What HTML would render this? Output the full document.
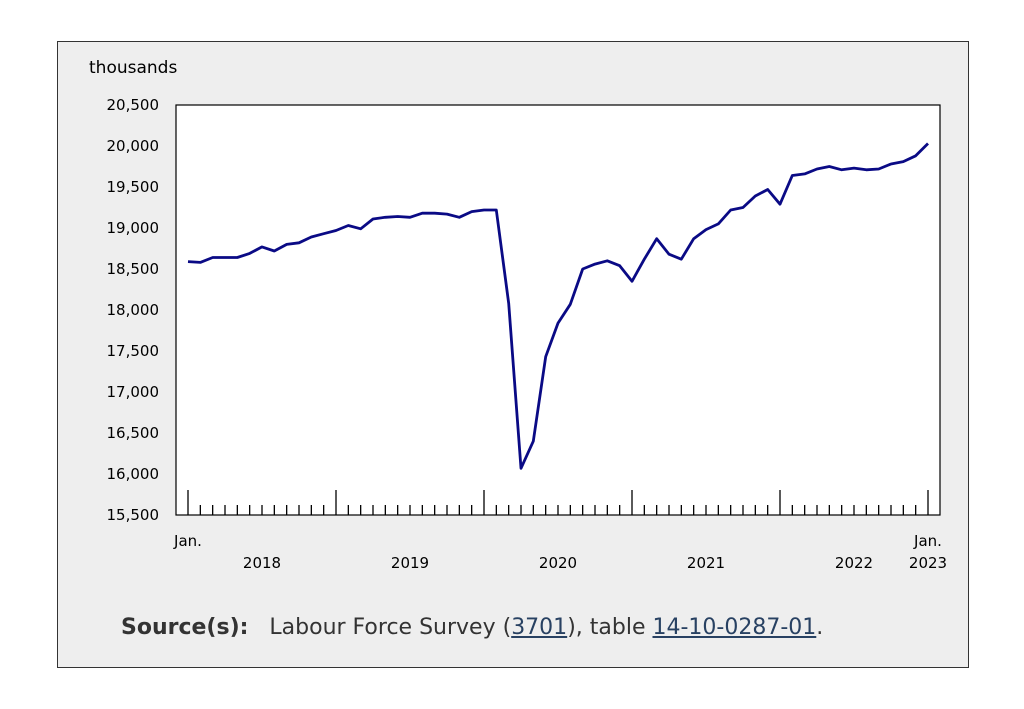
<!DOCTYPE html>
<html><head><meta charset="utf-8"><style>
body{margin:0;background:#fff;width:1024px;height:709px;overflow:hidden;font-family:"DejaVu Sans","Liberation Sans",sans-serif;}
.box{position:absolute;left:57px;top:41px;width:910px;height:625px;background:#eeeeee;border:1px solid #333;}
svg{position:absolute;left:0;top:0}
.src{position:absolute;left:121px;top:615px;font-size:22px;color:#333;}
.src a{color:#284162;text-decoration:underline}
</style></head><body>
<div class="box"></div>
<svg width="1024" height="709" font-family="DejaVu Sans, Liberation Sans, sans-serif" font-size="15" fill="#000">
<rect x="176" y="105" width="764" height="410" fill="#fff" stroke="#000" stroke-width="1.2"/>
<text x="89" y="73" font-size="17">thousands</text>
<g text-anchor="end" font-size="15" id="yl"></g>
<g id="ticks" stroke="#000" stroke-width="1.3"></g>
<g font-size="15" text-anchor="middle">
<text x="188" y="546">Jan.</text>
<text x="928" y="546">Jan.</text>
<text x="262" y="568">2018</text>
<text x="410" y="568">2019</text>
<text x="558" y="568">2020</text>
<text x="706" y="568">2021</text>
<text x="854" y="568">2022</text>
<text x="928" y="568">2023</text>
</g>
<polyline id="ln" fill="none" stroke="#0a0a85" stroke-width="2.8" stroke-linejoin="round"/>
</svg>
<div class="src"><b>Source(s):</b>&nbsp;&nbsp; Labour Force Survey (<a>3701</a>), table <a>14-10-0287-01</a>.</div>
<script>
var d=[18590,18580,18640,18640,18640,18690,18770,18720,18800,18820,18890,18930,18970,19030,18990,19110,19130,19140,19130,19180,19180,19170,19130,19200,19220,19220,18080,16070,16400,17430,17840,18070,18500,18560,18600,18540,18350,18620,18870,18680,18620,18870,18980,19050,19220,19250,19390,19470,19290,19640,19660,19720,19750,19710,19730,19710,19720,19780,19810,19880,20030];
function Y(v){return 515-(v-15500)*410/5000;}
function X(i){return 188+i*740/60;}
document.getElementById('ln').setAttribute('points',d.map(function(v,i){return X(i).toFixed(1)+','+Y(v).toFixed(1)}).join(' '));
var yl='';for(var v=15500;v<=20500;v+=500){yl+='<text x="159" y="'+(Y(v)+5)+'">'+v.toLocaleString('en-US')+'</text>';}
document.getElementById('yl').innerHTML=yl;
var t='';for(var i=0;i<=60;i++){var x=X(i);var big=i%12==0;t+='<line x1="'+x+'" x2="'+x+'" y1="'+(big?490:505)+'" y2="515"/>';}
document.getElementById('ticks').innerHTML=t;
</script>
</body></html>
